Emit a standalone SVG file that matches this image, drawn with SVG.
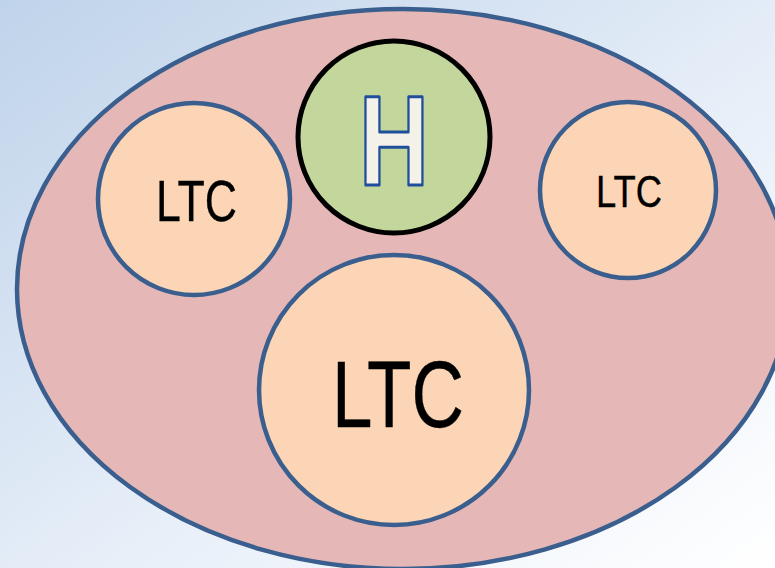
<svg xmlns="http://www.w3.org/2000/svg" width="775" height="568" viewBox="0 0 775 568">
  <defs>
    <linearGradient id="bg" x1="0" y1="0" x2="1" y2="1">
      <stop offset="0" stop-color="#bfd3ea"/>
      <stop offset="0.55" stop-color="#e6eef8"/>
      <stop offset="1" stop-color="#ffffff"/>
    </linearGradient>
    <style>
      .ltc { fill: #fbd5b5; stroke: #3a5f8e; stroke-width: 4.5; }
      .lbl { font-family: "Liberation Sans", Arial, sans-serif; fill: #000; stroke: #000; stroke-width: 0.4; text-anchor: middle; }
    </style>
  </defs>

  <!-- backdrop -->
  <rect x="0" y="0" width="775" height="568" fill="url(#bg)"/>

  <!-- outer region -->
  <g id="region">
    <ellipse cx="403" cy="289" rx="386" ry="280" fill="#e5b8b7" stroke="#3a5f8e" stroke-width="4.5"/>
  </g>

  <!-- hospital -->
  <g id="hospital">
    <circle cx="394" cy="137" r="96" fill="#c3d69b" stroke="#000" stroke-width="5"/>
    <text x="394" y="185" font-family="'Liberation Sans', Arial, sans-serif" font-weight="bold" font-size="128" text-anchor="middle" textLength="70" lengthAdjust="spacingAndGlyphs" fill="#f4f1e8" stroke="#1f4f9c" stroke-width="3" stroke-linejoin="round">H</text>
  </g>

  <!-- long-term care facilities -->
  <g id="ltc-left">
    <circle class="ltc" cx="194" cy="199" r="96"/>
    <text class="lbl" x="196.5" y="221" font-size="58" textLength="81" lengthAdjust="spacingAndGlyphs">LTC</text>
  </g>
  <g id="ltc-right">
    <circle class="ltc" cx="628" cy="190" r="88"/>
    <text class="lbl" x="629" y="207" font-size="44.5" textLength="66" lengthAdjust="spacingAndGlyphs">LTC</text>
  </g>
  <g id="ltc-center">
    <circle class="ltc" cx="394" cy="390" r="135"/>
    <text class="lbl" x="398" y="427" font-size="95" textLength="132" lengthAdjust="spacingAndGlyphs">LTC</text>
  </g>

  <g id="connectors"/>
</svg>
